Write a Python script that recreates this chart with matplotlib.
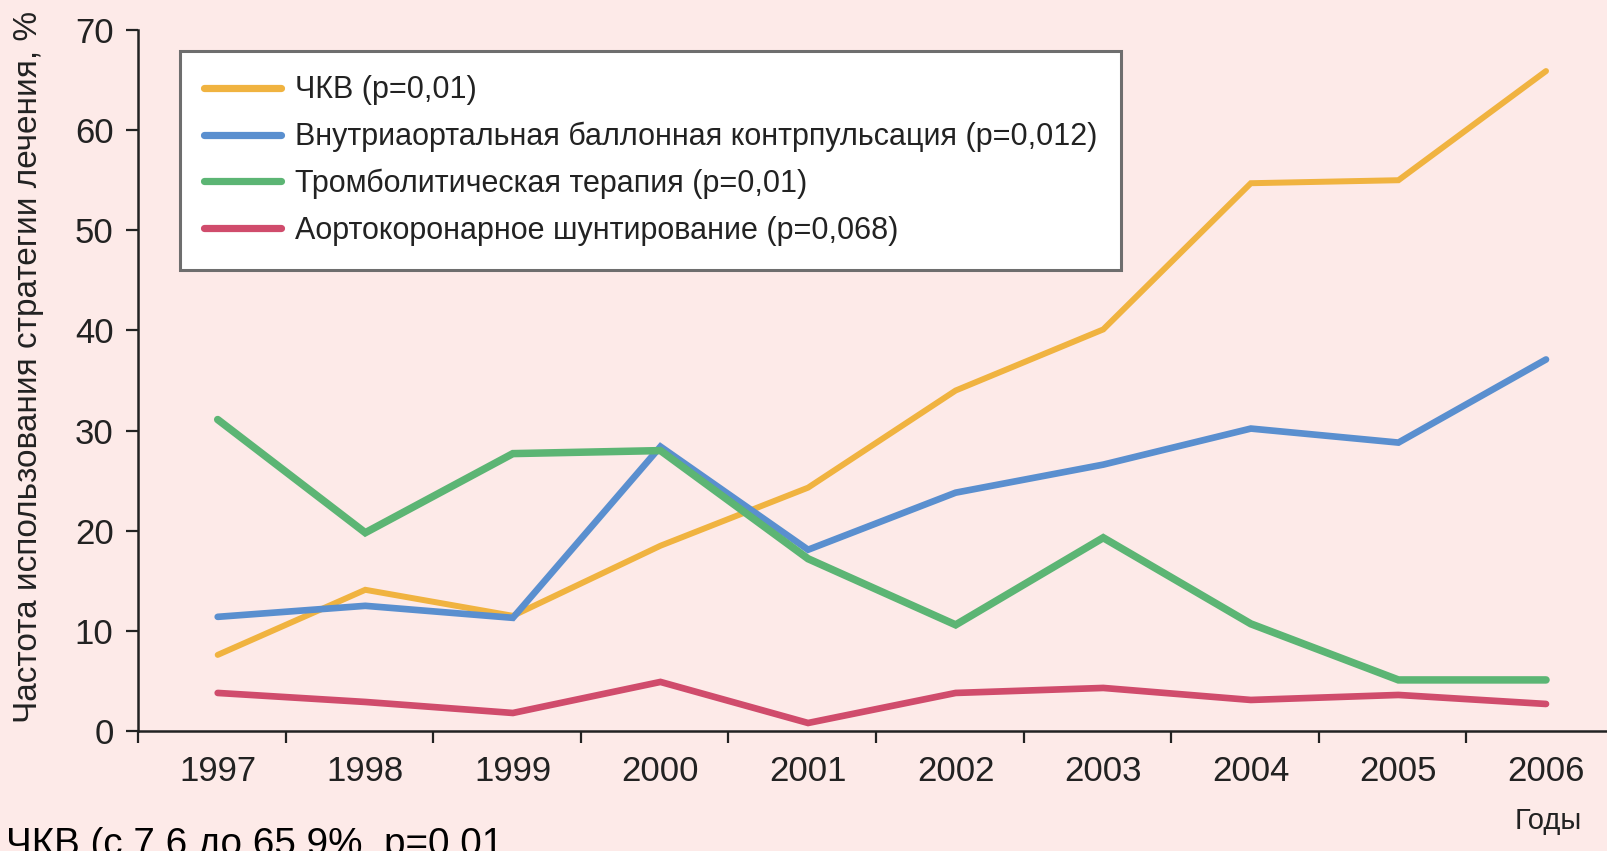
import numpy as np
import matplotlib
matplotlib.use("Agg")
import matplotlib.pyplot as plt

# Treatment strategy usage by year, %
years = [1997, 1998, 1999, 2000, 2001, 2002, 2003, 2004, 2005, 2006]
pci = [7.6, 14.1, 11.5, 18.5, 24.3, 34.0, 40.1, 54.7, 55.0, 65.9]
iabp = [11.4, 12.5, 11.3, 28.4, 18.1, 23.8, 26.6, 30.2, 28.8, 37.1]
thrombolysis = [31.1, 19.8, 27.7, 28.0, 17.2, 10.6, 19.3, 10.7, 5.1, 5.1]
cabg = [3.8, 2.9, 1.8, 4.9, 0.8, 3.8, 4.3, 3.1, 3.6, 2.7]

series_labels = [
    "ЧКВ (р=0,01)",
    "Внутриаортальная баллонная контрпульсация (р=0,012)",
    "Тромболитическая терапия (р=0,01)",
    "Аортокоронарное шунтирование (р=0,068)",
]
y_ticks = [0, 10, 20, 30, 40, 50, 60, 70]

ylabel_text = "Частота использования стратегии лечения, %"
xlabel_text = "Годы"
note_text = "ЧКВ (с 7,6 до 65,9%, р=0,01"

bg = "#fdeae8"
ink = "#222222"
colors = ["#f0b340", "#5a8fcf", "#5cb574", "#d04c6c"]
widths = [4.3, 4.8, 5.4, 4.8]

plt.rcParams["font.family"] = ["Liberation Sans", "DejaVu Sans"]

W, H = 1608, 851
fig = plt.figure(figsize=(W / 100, H / 100), dpi=100, facecolor=bg)
ax = fig.add_axes([138 / W, 1 - 731 / H, 1 - 138 / W, (731 - 30) / H])
ax.set_facecolor(bg)

x = np.arange(len(years))
for vals, col, lw, lab in zip([pci, iabp, thrombolysis, cabg], colors, widths, series_labels):
    ax.plot(x, vals, color=col, lw=lw, label=lab,
            solid_capstyle="round", solid_joinstyle="miter")

ax.set_ylim(0, 70)
ax.set_xlim(-0.54, 9.42)

for side in ("top", "right"):
    ax.spines[side].set_visible(False)
for side in ("left", "bottom"):
    ax.spines[side].set_color(ink)
    ax.spines[side].set_linewidth(1.8)

ax.set_yticks(y_ticks)
ax.tick_params(axis="y", which="major", direction="out", length=8.6, width=1.6,
               color=ink, labelsize=25, labelcolor=ink, pad=9)

ax.set_xticks(x)
ax.set_xticklabels([str(y) for y in years])
ax.set_xticks(np.arange(len(years)) - 0.54, minor=True)
ax.tick_params(axis="x", which="major", length=0, labelsize=25, labelcolor=ink, pad=17)
ax.tick_params(axis="x", which="minor", direction="out", length=8.6, width=1.6, color=ink)

leg = ax.legend(loc="upper left", bbox_to_anchor=(180 / W, 1 - 51 / H),
                bbox_transform=fig.transFigure, fontsize=22, frameon=True,
                fancybox=False, framealpha=1, facecolor="white", edgecolor="#6e6e6e",
                handlelength=2.5, handletextpad=0.45, labelspacing=0.54,
                borderpad=0.8, borderaxespad=0)
leg.get_frame().set_linewidth(2.2)
for t in leg.get_texts():
    t.set_color(ink)
for h in leg.get_lines():
    h.set_linewidth(5.2)
    h.set_solid_capstyle("round")

fig.text(29 / W, 1 - 367 / H, ylabel_text, rotation=90, ha="center", va="center",
         fontsize=24, color=ink)
fig.text(1548 / W, 1 - 821 / H, xlabel_text, ha="center", va="center",
         fontsize=21, color=ink)
fig.text(6 / W, -4 / H, note_text, ha="left", va="baseline", fontsize=27.8, color="black")

fig.savefig("out.png", dpi=100, facecolor=bg)
